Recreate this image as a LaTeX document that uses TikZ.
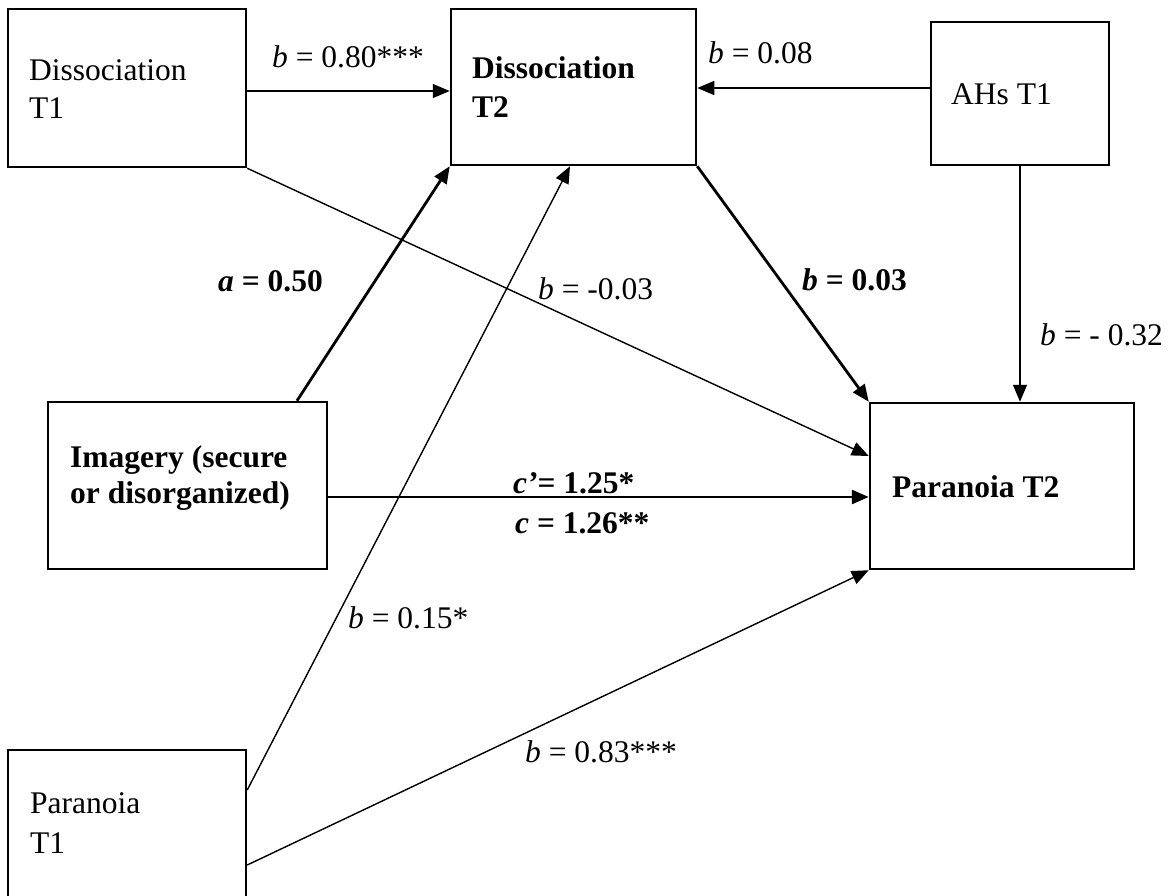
\documentclass[tikz,border=0pt]{standalone}
\usepackage{fontspec}
\setmainfont{Liberation Serif}
\usetikzlibrary{arrows.meta}
\begin{document}
\begin{tikzpicture}[x=1pt,y=-1pt,
  every node/.style={font=\fontsize{31.5}{38}\selectfont},
  boxn/.style={draw, line width=2.5pt, inner sep=0pt},
  txt/.style={inner sep=0pt, anchor=base west},
  thinarr/.style={line width=1.4pt, -{Triangle[length=17pt,width=14pt]}},
  thickarr/.style={line width=2.8pt, -{Triangle[length=17pt,width=14pt]}}
]
\useasboundingbox (0,0) rectangle (1171,895);
% boxes
\node[boxn, minimum width=238pt, minimum height=158pt] (dt1) at (127,88) {};
\node[boxn, minimum width=245pt, minimum height=156pt] (dt2) at (573.5,87) {};
\node[boxn, minimum width=178pt, minimum height=143pt] (ahs) at (1020,93.5) {};
\node[boxn, minimum width=279pt, minimum height=167pt] (img) at (187.5,485.5) {};
\node[boxn, minimum width=264pt, minimum height=166pt] (pt2) at (1002,486) {};
\node[boxn, minimum width=238pt, minimum height=155pt] (pt1) at (127,827.5) {};
% box texts
\node[txt] (dt1a) at (29,80) {Dissociation};
\node[txt] (dt1b) at (29,118) {T1};
\node[txt] (dt2a) at (472,78) {\bfseries Dissociation};
\node[txt] (dt2b) at (472,117) {\bfseries T2};
\node[txt] (ahsa) at (951,104) {AHs T1};
\node[txt] (imga) at (70,467) {\bfseries Imagery (secure};
\node[txt] (imgb) at (70,503) {\bfseries or disorganized)};
\node[txt] (pt2a) at (892,497) {\bfseries Paranoia T2};
\node[txt] (pt1a) at (30,813) {Paranoia};
\node[txt] (pt1b) at (30,853) {T1};
% connectors
\draw[thinarr] (dt1.east |- 0,91) -- (dt2.west |- 0,91);
\draw[thinarr] (ahs.west |- 0,88) -- (dt2.east |- 0,88);
\draw[thinarr] (ahs.south) -- (ahs.south |- pt2.north);
\draw[thinarr] (dt1.south east) -- (pt2.west |- 0,456);
\draw[thickarr] (img.north -| 297,0) -- (dt2.south west);
\draw[thinarr] (pt1.east |- 0,790) -- (dt2.south -| 570,0);
\draw[thinarr] (pt1.east |- 0,865) -- (pt2.south west);
\draw[thickarr] (dt2.south east) -- (pt2.north west);
\draw[thickarr] (img.east |- 0,497) -- (pt2.west |- 0,497);
% labels
\node[txt] (l1) at (272,67) {\textit{b} = 0.80***};
\node[txt] (l2) at (708,63) {\textit{b} = 0.08};
\node[txt] (l3) at (1040,345) {\textit{b} = - 0.32};
\node[txt] (l4) at (538,299) {\textit{b} = -0.03};
\node[txt] (l5) at (218,291) {\bfseries\itshape a\upshape{} = 0.50};
\node[txt] (l6) at (802,290) {\bfseries\itshape b\upshape{} = 0.03};
\node[txt] (l7) at (513,493) {\bfseries\itshape c’\upshape= 1.25*};
\node[txt] (l8) at (515,533) {\bfseries\itshape c\upshape{} = 1.26**};
\node[txt] (l9) at (348,628) {\textit{b} = 0.15*};
\node[txt] (l10) at (525,762) {\textit{b} = 0.83***};
\end{tikzpicture}
\end{document}
